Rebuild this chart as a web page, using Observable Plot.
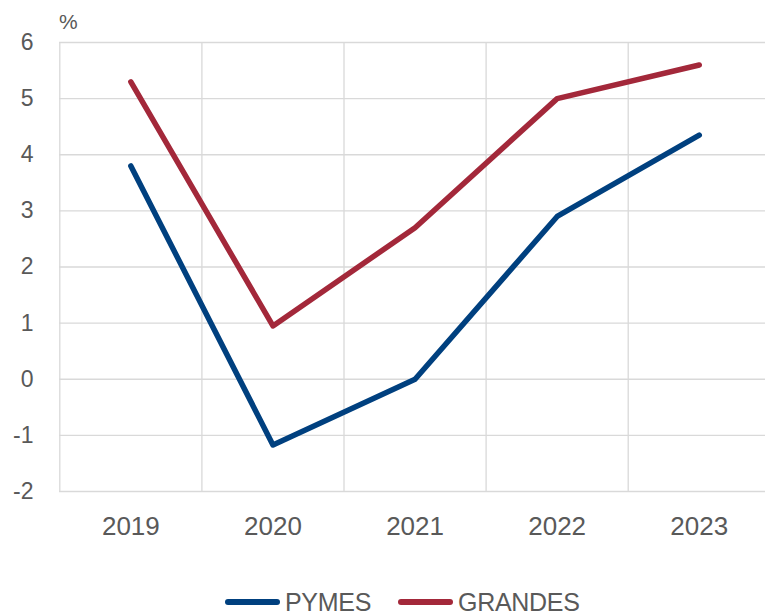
<!DOCTYPE html>
<html>
<head>
<meta charset="utf-8">
<script src="https://cdn.jsdelivr.net/npm/d3@7"></script>
<script src="https://cdn.jsdelivr.net/npm/@observablehq/plot@0.6"></script>
<style>
  html, body { margin: 0; padding: 0; background: #fff; overflow: hidden; }
  body { width: 765px; height: 615px; position: relative; font-family: "Liberation Sans", Arial, sans-serif; color: #595959; }
  #chart { position: absolute; left: 0; top: 0; z-index: 0; }
  #unit { position: absolute; left: 59px; top: 11px; font-size: 21px; line-height: 21px; z-index: 2; }
  #legend { position: absolute; left: 225px; top: 587px; height: 30px; display: flex; align-items: center; font-size: 25px; line-height: 30px; letter-spacing: -0.3px; z-index: 2; }
  .item { display: flex; align-items: center; margin-right: 27px; }
  .swatch { width: 55px; height: 6px; border-radius: 3px; margin-right: 5px; }
</style>
</head>
<body>
<div id="chart"></div>
<div id="unit">%</div>
<div id="legend"></div>
<script>
const years = [2019, 2020, 2021, 2022, 2023];
const pymes = [3.8, -1.17, 0.0, 2.9, 4.35];
const grandes = [5.3, 0.95, 2.7, 5.0, 5.6];
const seriesNames = ["PYMES", "GRANDES"];
const seriesColors = ["#00407f", "#a3283a"];
const yTicks = [-2, -1, 0, 1, 2, 3, 4, 5, 6];

const data = [
  ...years.map((year, i) => ({year, value: pymes[i], series: "PYMES"})),
  ...years.map((year, i) => ({year, value: grandes[i], series: "GRANDES"}))
];
const boundaries = [...years.map(y => y - 0.5), years[years.length - 1] + 0.5];

const gridColor = "#d9d9d9";
const textColor = "#595959";

const chart = Plot.plot({
  width: 765,
  height: 585,
  marginTop: 42,
  marginBottom: 94,
  marginLeft: 59,
  marginRight: 0,
  style: {fontFamily: "Liberation Sans, Arial, sans-serif", color: textColor, background: "transparent", overflow: "hidden"},
  x: {type: "linear", domain: [boundaries[0], boundaries[boundaries.length - 1]], range: [59.3, 769.8]},
  y: {domain: [-2, 6]},
  color: {domain: seriesNames, range: seriesColors},
  marks: [
    Plot.ruleY(yTicks, {y: d => d, stroke: gridColor, strokeWidth: 1.3}),
    Plot.ruleX(boundaries, {x: d => d, y1: -2, y2: 6, stroke: gridColor, strokeWidth: 1.3}),
    Plot.axisY({ticks: yTicks, tickSize: 0, tickPadding: 26, fontSize: 23, label: null, tickFormat: d => String(d)}),
    Plot.axisX({ticks: years, tickSize: 0, tickPadding: 25, fontSize: 26, label: null, tickFormat: d => String(d)}),
    Plot.line(data, {x: "year", y: "value", z: "series", stroke: "series", strokeWidth: 5.5, strokeLinecap: "round", strokeLinejoin: "round"})
  ]
});
document.getElementById("chart").appendChild(chart);

const legend = document.getElementById("legend");
seriesNames.forEach((name, i) => {
  const item = document.createElement("div");
  item.className = "item";
  const sw = document.createElement("div");
  sw.className = "swatch";
  sw.style.background = seriesColors[i];
  const label = document.createElement("span");
  label.textContent = name;
  item.appendChild(sw);
  item.appendChild(label);
  legend.appendChild(item);
});
</script>
</body>
</html>
